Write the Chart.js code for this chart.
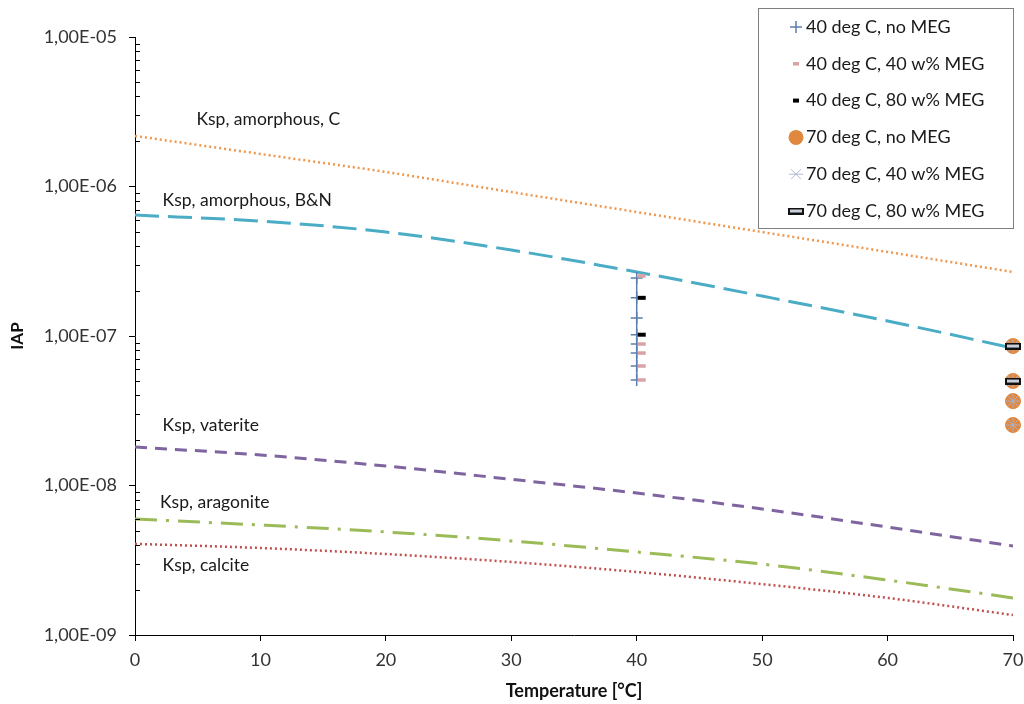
<!DOCTYPE html>
<html>
<head>
<meta charset="utf-8">
<script src="https://cdn.jsdelivr.net/npm/chart.js@4.4.1/dist/chart.umd.min.js"></script>
<style>
  html, body { margin: 0; padding: 0; background: #fff; }
  #wrap { width: 1024px; height: 704px; }
</style>
</head>
<body>
<div id="wrap"><canvas id="chart"></canvas></div>
<script>
// solubility curves, temperature in deg C
const temps = [0, 10, 20, 30, 40, 50, 60, 70];
const kspAmorphC   = [2.18e-6, 1.65e-6, 1.25e-6, 9.18e-7, 6.75e-7, 4.96e-7, 3.65e-7, 2.68e-7];
const kspAmorphBN  = [6.44e-7, 5.87e-7, 4.96e-7, 3.76e-7, 2.68e-7, 1.85e-7, 1.26e-7, 8.31e-8];
const kspVaterite  = [1.81e-8, 1.60e-8, 1.35e-8, 1.10e-8, 8.90e-9, 6.97e-9, 5.27e-9, 3.94e-9];
const kspAragonite = [5.97e-9, 5.44e-9, 4.89e-9, 4.26e-9, 3.59e-9, 2.98e-9, 2.33e-9, 1.77e-9];
const kspCalcite   = [4.07e-9, 3.82e-9, 3.48e-9, 3.08e-9, 2.64e-9, 2.19e-9, 1.77e-9, 1.36e-9];

// measured IAP
const t40NoMeg = [40, 40, 40, 40, 40, 40, 40, 40];
const iap40NoMeg = [2.44e-7, 1.80e-7, 1.32e-7, 1.02e-7, 8.84e-8, 7.69e-8, 6.30e-8, 5.08e-8];
const t40Meg40 = [40.4, 40.4, 40.4, 40.4, 40.4];
const iap40Meg40 = [2.52e-7, 8.84e-8, 7.69e-8, 6.30e-8, 5.08e-8];
const t40Meg80 = [40.4, 40.4];
const iap40Meg80 = [1.80e-7, 1.02e-7];
const t70NoMeg = [70, 70, 70, 70];
const iap70NoMeg = [8.57e-8, 5.00e-8, 3.67e-8, 2.54e-8];
const t70Meg40 = [70, 70, 70, 70];
const iap70Meg40 = [8.57e-8, 5.00e-8, 3.67e-8, 2.54e-8];
const t70Meg80 = [70, 70];
const iap70Meg80 = [8.57e-8, 5.00e-8];

const yTicks = [1e-9, 1e-8, 1e-7, 1e-6, 1e-5];
const xTicks = [0, 10, 20, 30, 40, 50, 60, 70];

const curveLabels = [
  { text: 'Ksp, amorphous, C', x: 4.9, y: 2.83e-6 },
  { text: 'Ksp, amorphous, B&N', x: 2.2, y: 8.13e-7 },
  { text: 'Ksp, vaterite', x: 2.2, y: 2.54e-8 },
  { text: 'Ksp, aragonite', x: 2.0, y: 7.76e-9 },
  { text: 'Ksp, calcite', x: 2.2, y: 2.94e-9 }
];

const FONT = 'Lato, "Open Sans", sans-serif';

function pts(xs, ys) {
  return xs.map((x, i) => ({ x: x, y: ys[i] }));
}

// flat bar marker with dark rim
const barMark = document.createElement('canvas');
barMark.width = 16; barMark.height = 7;
(function () {
  const c = barMark.getContext('2d');
  c.fillStyle = '#c9d0dc';
  c.strokeStyle = '#111';
  c.lineWidth = 2;
  c.beginPath();
  c.rect(1, 1, 14, 5);
  c.fill(); c.stroke();
})();

function curve(label, data, color, dash, width) {
  return {
    label: label, data: pts(temps, data), showLine: true,
    borderColor: color, borderWidth: width, borderDash: dash, borderCapStyle: 'butt',
    pointRadius: 0, tension: 0.4, cubicInterpolationMode: 'monotone', order: 10
  };
}

const markerSets = [
  { label: '40 deg C, no MEG', data: pts(t40NoMeg, iap40NoMeg), showLine: true,
    borderColor: '#5b7fae', borderWidth: 1.5, pointStyle: 'cross', pointRadius: 6,
    pointBorderWidth: 1.5, order: 5, clip: false },
  { label: '40 deg C, 40 w% MEG', data: pts(t40Meg40, iap40Meg40),
    borderColor: '#d9a3a6', pointStyle: 'line', pointRadius: 4, pointBorderWidth: 3.5, order: 4, clip: false },
  { label: '40 deg C, 80 w% MEG', data: pts(t40Meg80, iap40Meg80),
    borderColor: '#000000', pointStyle: 'line', pointRadius: 4, pointBorderWidth: 4, order: 3, clip: false },
  { label: '70 deg C, no MEG', data: pts(t70NoMeg, iap70NoMeg),
    backgroundColor: '#e0883e', borderColor: '#e0883e', pointStyle: 'circle', pointRadius: 7.5,
    pointBorderWidth: 1, order: 4, clip: false },
  { label: '70 deg C, 40 w% MEG', data: pts(t70Meg40, iap70Meg40),
    borderColor: 'rgba(170,178,210,0.9)', pointStyle: 'star', pointRadius: 7, pointBorderWidth: 1, order: 3, clip: false },
  { label: '70 deg C, 80 w% MEG', data: pts(t70Meg80, iap70Meg80),
    pointStyle: barMark, pointRadius: 7, order: 2, clip: false }
];

function fmtExp(v) {
  const e = Math.round(Math.log10(v));
  const s = Math.abs(e) < 10 ? '0' + Math.abs(e) : '' + Math.abs(e);
  return '1,00E' + (e < 0 ? '-' : '+') + s;
}

const decorPlugin = {
  id: 'decor',
  afterDraw(chart) {
    const ctx = chart.ctx;
    const xs = chart.scales.x, ys = chart.scales.y;
    ctx.save();
    // minor ticks on the log axis
    ctx.strokeStyle = '#000';
    ctx.lineWidth = 1;
    for (let d = -9; d < -5; d++) {
      for (let m = 2; m <= 9; m++) {
        const py = Math.round(ys.getPixelForValue(m * Math.pow(10, d))) + 0.5;
        ctx.beginPath();
        ctx.moveTo(xs.left, py);
        ctx.lineTo(xs.left + 5, py);
        ctx.stroke();
      }
    }
    // curve labels
    ctx.fillStyle = '#1a1a1a';
    ctx.font = '17.5px ' + FONT;
    ctx.textBaseline = 'middle';
    ctx.textAlign = 'left';
    curveLabels.forEach(l => {
      ctx.fillText(l.text, xs.getPixelForValue(l.x), ys.getPixelForValue(l.y));
    });
    // legend box
    const bx = 758, by = 8, bw = 255, bh = 220;
    ctx.fillStyle = '#fff';
    ctx.fillRect(bx, by, bw, bh);
    ctx.strokeStyle = '#7f7f7f';
    ctx.lineWidth = 1;
    ctx.strokeRect(bx + 0.5, by + 0.5, bw, bh);
    const step = 36.8;
    markerSets.forEach((ds, i) => {
      const cy = by + 19 + i * step;
      const cx = 796;
      ctx.save();
      ctx.strokeStyle = ds.borderColor || '#000';
      ctx.fillStyle = ds.backgroundColor || ds.borderColor || '#000';
      ctx.lineWidth = ds.pointBorderWidth || 1;
      const r = ds.pointRadius;
      ctx.beginPath();
      if (ds.pointStyle === 'cross') {
        ctx.moveTo(cx - r, cy); ctx.lineTo(cx + r, cy);
        ctx.moveTo(cx, cy - r); ctx.lineTo(cx, cy + r);
        ctx.stroke();
      } else if (ds.pointStyle === 'line') {
        ctx.moveTo(cx - r + 1, cy); ctx.lineTo(cx + r - 1, cy);
        ctx.stroke();
      } else if (ds.pointStyle === 'circle') {
        ctx.arc(cx, cy, r, 0, Math.PI * 2);
        ctx.fill();
      } else if (ds.pointStyle === 'star') {
        const k = r * 0.72;
        ctx.moveTo(cx - r, cy); ctx.lineTo(cx + r, cy);
        ctx.moveTo(cx - k, cy - k); ctx.lineTo(cx + k, cy + k);
        ctx.moveTo(cx - k, cy + k); ctx.lineTo(cx + k, cy - k);
        ctx.stroke();
      } else {
        ctx.drawImage(barMark, cx - 8, cy - 3.5);
      }
      ctx.restore();
      ctx.fillStyle = '#1a1a1a';
      ctx.font = '18px ' + FONT;
      ctx.fillText(ds.label, 806, cy);
    });
    ctx.restore();
  }
};

new Chart(document.getElementById('chart'), {
  type: 'scatter',
  data: {
    datasets: markerSets.concat([
      curve('Ksp, amorphous, C', kspAmorphC, '#f0964a', [2, 3], 2.5),
      curve('Ksp, amorphous, B&N', kspAmorphBN, '#4aacc5', [24, 9], 3),
      curve('Ksp, vaterite', kspVaterite, '#7f65a0', [12, 8], 3),
      curve('Ksp, aragonite', kspAragonite, '#9bbb59', [22, 9, 3, 9], 3),
      curve('Ksp, calcite', kspCalcite, '#c0504d', [2, 3], 2.5)
    ])
  },
  options: {
    responsive: true,
    maintainAspectRatio: false,
    animation: false,
    layout: { padding: { top: 37, right: 11, left: 0, bottom: 0 } },
    plugins: { legend: { display: false }, tooltip: { enabled: false } },
    scales: {
      x: {
        type: 'linear', min: 0, max: 70,
        afterBuildTicks: s => { s.ticks = xTicks.map(v => ({ value: v })); },
        afterFit: s => { s.height = 69; s.paddingRight = 11; s.paddingLeft = 0; },
        grid: { drawOnChartArea: false, drawTicks: true, tickLength: 6, color: '#000' },
        border: { color: '#000', width: 1 },
        ticks: { color: '#333', font: { family: FONT, size: 18 }, padding: 8 },
        title: { display: true, text: 'Temperature [°C]', color: '#111',
          font: { family: FONT, size: 18, weight: 'bold' }, padding: { top: 0, bottom: 2 } }
      },
      y: {
        type: 'logarithmic', min: 1e-9, max: 1e-5,
        afterBuildTicks: s => { s.ticks = yTicks.map(v => ({ value: v, major: true })); },
        afterFit: s => { s.width = 135; },
        grid: { drawOnChartArea: false, drawTicks: true, tickLength: 6, color: '#000' },
        border: { color: '#000', width: 1 },
        ticks: { color: '#333', font: { family: FONT, size: 18 }, padding: 12,
          callback: v => fmtExp(v) },
        title: { display: true, text: 'IAP', color: '#111',
          font: { family: FONT, size: 17, weight: 'bold' }, padding: { top: 7, bottom: 0 } }
      }
    }
  },
  plugins: [decorPlugin]
});
</script>
</body>
</html>
